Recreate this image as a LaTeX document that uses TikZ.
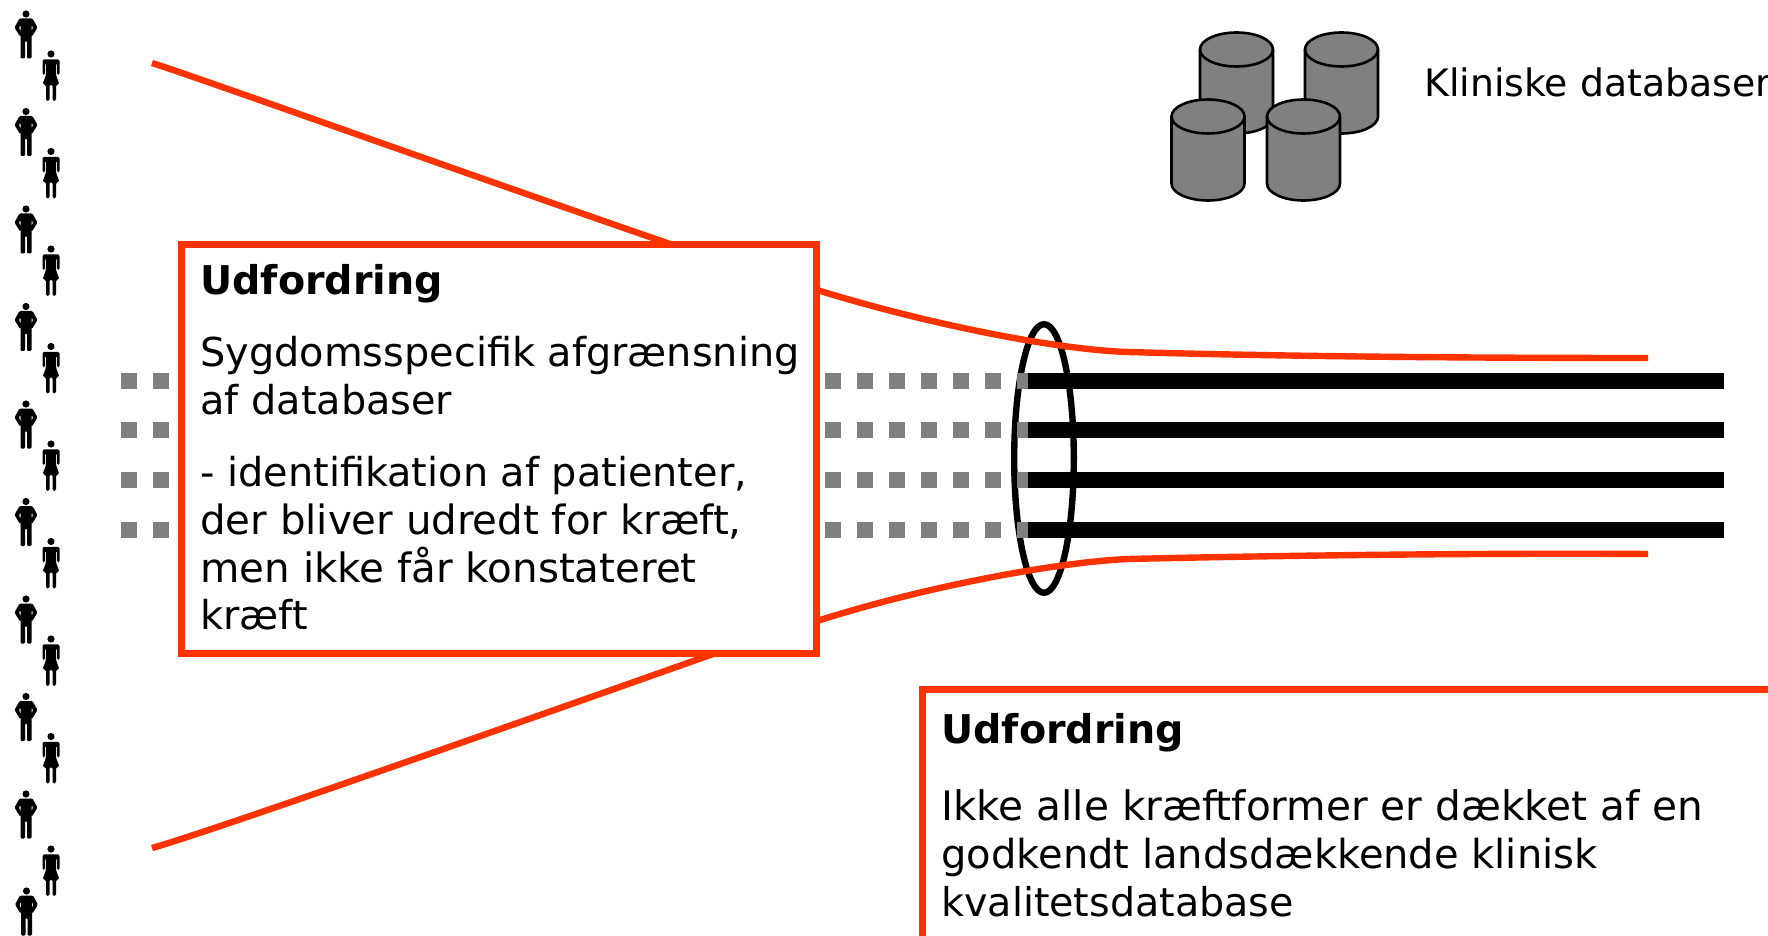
\documentclass[tikz,border=0pt]{standalone}
\usepackage{fontspec}
\setmainfont{DejaVu Sans}
\definecolor{hot}{HTML}{FF3300}
\definecolor{dbgrey}{HTML}{808080}
\tikzset{
  x=0.5pt,y=-0.5pt,
  redbox/.style={draw=hot,line width=3.5pt,fill=white,rectangle,inner sep=0pt,anchor=north west},
  redline/.style={draw=hot,line width=3.2pt},
  txt/.style={anchor=base west,inner sep=0pt,font=\fontsize{#1pt}{24pt}\selectfont},
  txt/.default=19.9,
  btxt/.style={anchor=base west,inner sep=0pt,font=\fontsize{19.8pt}{24pt}\selectfont\bfseries},
  man/.pic={
    \fill (0,0) circle (3.6);
    \fill[rounded corners=0.6pt] (-6.5,4.5) -- (6.5,4.5) -- (11.5,13.5) -- (6,22.5) -- (3.8,20.5) -- (7.2,13.5) -- (5.5,11) -- (5.5,44.5) -- (1,44.5) -- (1,27) -- (-1,27) -- (-1,44.5) -- (-5.5,44.5) -- (-5.5,11) -- (-7.2,13.5) -- (-3.8,20.5) -- (-6,22.5) -- (-11.5,13.5) -- cycle;
  },
  woman/.pic={
    \fill (0,0) circle (3.6);
    \fill[rounded corners=0.8pt] (-8.5,5.3) -- (8.5,5.3) -- (8.5,21) -- (6,21) -- (6,9) -- (5,9) -- (5,21) -- (8.5,30.5) -- (5,30.5) -- (5,47) -- (1.5,47) -- (1.5,30.5) -- (-1.5,30.5) -- (-1.5,47) -- (-5,47) -- (-5,30.5) -- (-8.5,30.5) -- (-5,21) -- (-5,9) -- (-6,9) -- (-6,21) -- (-8.5,21) -- cycle;
  },
  pics/cyl/.style={code={
    \filldraw[fill=dbgrey,draw=black,line width=1.3pt] (-36.5,0) -- (-36.5,67) arc[start angle=180,end angle=0,x radius=36.5,y radius=17] -- (36.5,0) arc[start angle=0,end angle=-180,x radius=36.5,y radius=17] -- cycle;
    \draw[black,line width=1.3pt] (-36.5,0) arc[start angle=180,end angle=0,x radius=36.5,y radius=17];
  }}
}
\begin{document}
\begin{tikzpicture}
\useasboundingbox (0,0) rectangle (1768,936);
\clip (0,0) rectangle (1768,936);
% people
\foreach \i in {0,...,8} \pic at (26,14+97.5*\i) {man};
\pic at (26.5,891) {man};
\foreach \i in {0,...,7} \pic at (51,54+97.5*\i) {woman};
\pic at (51,849) {woman};
% ellipse
\coordinate (ec) at (1044,458.5);
\draw[line width=3.2pt] (ec) ellipse [x radius=29.8,y radius=134.3];
% lines
\foreach \y in {381,430,480,530}{
  \foreach \x in {121,153,825,857,889,921,953,985,1017}
    \fill[dbgrey] (\x,\y-8) rectangle ++(16,16);
  \fill[black] (1028,\y-8) rectangle (1724,\y+8);
}
% red funnels
\coordinate (ta) at (152,63);
\coordinate (tb) at (1648,358);
\coordinate (ba) at (152,848);
\coordinate (bb) at (1648,554);
\draw[redline] (ta) .. controls (205,80) and (450,168) .. (670,244) -- (817,290) .. controls (930,325) and (1060,350) .. (1128,352) .. controls (1300,357) and (1500,358) .. (tb);
\draw[redline] (ba) .. controls (205,833) and (450,747) .. (713,654) -- (817,621) .. controls (930,585) and (1060,562) .. (1128,559) .. controls (1300,555) and (1500,553) .. (bb);
% databases
\pic at (1236.5,49.5) {cyl};
\pic at (1341.5,49.5) {cyl};
\pic at (1208,116.5) {cyl};
\pic at (1303.5,116.5) {cyl};
\node[txt=18.9] (dbl) at (1424,97) {Kliniske databaser};
% box 1
\node[redbox,minimum width=317.5pt,minimum height=204.5pt] (box1) at (178,241) {};
\node[btxt] (b1a) at (200,295) {Udfordring};
\node[txt] (b1b) at (200,366) {Sygdomsspecifik afgrænsning};
\node[txt] (b1c) at (200,415) {af databaser};
\node[txt] (b1d) at (200,486) {- identifikation af patienter,};
\node[txt=20.15] (b1e) at (200,534) {der bliver udredt for kræft,};
\node[txt=20.2] (b1f) at (200,582) {men ikke får konstateret};
\node[txt] (b1g) at (200,629) {kræft};
% box 2
\node[redbox,minimum width=460pt,minimum height=200pt] (box2) at (919,686) {};
\node[btxt] (b2a) at (941,743) {Udfordring};
\node[txt=20.3] (b2b) at (941,820) {Ikke alle kræftformer er dækket af en};
\node[txt=20] (b2c) at (941,868) {godkendt landsdækkende klinisk};
\node[txt=19.8] (b2d) at (941,916) {kvalitetsdatabase};
\end{tikzpicture}
\end{document}
